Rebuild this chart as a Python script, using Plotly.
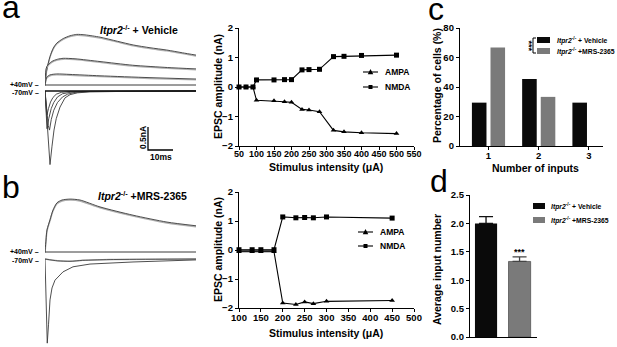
import plotly.graph_objects as go

W, H = 617, 347
FONT = "Liberation Sans"

# ---------------- data ----------------
# panel a example traces: time (ms) and current (nA)
a40_big_t = [0, 0.6, 2, 3.3, 4.7, 7.3, 10, 12.7, 16, 22, 29, 35.3, 42, 48.7, 55, 60.4]
a40_big_i = [0, 0.3, 0.62, 0.8, 0.91, 1.01, 1.07, 1.10, 1.09, 1.04, 0.95, 0.87, 0.81, 0.76, 0.70, 0.65]
a40_mid_t = [0, 0.7, 2.7, 5, 7.3, 12, 22, 35, 49, 60.4]
a40_mid_i = [0, 0.4, 0.51, 0.56, 0.58, 0.57, 0.51, 0.43, 0.38, 0.35]
a40_small_t = [0, 0.7, 2, 4.7, 10, 22, 42, 60.4]
a40_small_i = [0, 0.17, 0.22, 0.24, 0.23, 0.20, 0.16, 0.13]
a40_flat_t = [0, 60.4]
a40_flat_i = [0, 0]
a70_big_t = [0, 0.8, 1.4, 2, 2.8, 3.6, 4.5, 6, 8, 10, 13, 18, 30, 60.4]
a70_big_i = [0, -0.6, -1.15, -1.6, -1.2, -0.85, -0.6, -0.35, -0.15, -0.08, -0.04, -0.02, -0.01, 0]
a70_b2_t = [0, 0.7, 1.3, 1.8, 2.5, 3.5, 5, 7, 9, 12, 18, 60.4]
a70_b2_i = [0, -0.5, -0.75, -0.85, -0.62, -0.42, -0.25, -0.13, -0.07, -0.03, -0.01, 0]
a70_mid_t = [0, 0.4, 0.8, 1.5, 2.5, 3.5, 5, 7, 10, 15, 60.4]
a70_mid_i = [0, -0.5, -0.82, -0.6, -0.38, -0.25, -0.13, -0.06, -0.03, -0.01, 0]
a70_small_t = [0, 0.4, 0.8, 1.4, 2.2, 3.2, 4.5, 6.5, 10, 60.4]
a70_small_i = [0, -0.35, -0.52, -0.38, -0.24, -0.14, -0.07, -0.03, -0.01, 0]

# panel b example traces
b40_t = [0, 0.4, 0.8, 2, 3.2, 4.8, 6.8, 10, 14, 22, 35.2, 48.8, 60.4]
b40_i = [0, 0.26, 0.48, 0.70, 0.91, 1.07, 1.13, 1.15, 1.13, 0.98, 0.80, 0.65, 0.57]
b40_flat_t = [0, 60.4]
b40_flat_i = [0, 0]
b70_t = [0, 0.4, 0.9, 1.4, 2, 2.8, 4, 7.2, 11.2, 18, 22, 35.2, 60.4]
b70_i = [0, -0.67, -1.83, -1.43, -0.89, -0.63, -0.46, -0.28, -0.17, -0.11, -0.10, -0.065, -0.02]
b70_flat_t = [0, 5, 10, 15, 20, 30, 60.4]
b70_flat_i = [0, -0.04, -0.05, -0.03, -0.02, -0.01, 0]

# input-output curves
stim_a = [50, 70, 90, 100, 150, 180, 200, 230, 250, 280, 320, 350, 400, 500]
ampa_a = [0, 0, 0, -0.45, -0.47, -0.50, -0.52, -0.76, -0.78, -0.84, -1.47, -1.52, -1.55, -1.58]
nmda_a = [0, 0, 0, 0.24, 0.24, 0.25, 0.25, 0.58, 0.59, 0.60, 1.03, 1.04, 1.07, 1.08]

stim_b = [100, 130, 150, 180, 200, 230, 250, 270, 300, 450]
ampa_b = [-0.06, -0.06, -0.06, -0.06, -1.83, -1.88, -1.79, -1.85, -1.77, -1.74]
nmda_b = [0.01, 0.01, 0.01, 0.01, 1.14, 1.11, 1.12, 1.11, 1.14, 1.10]

# panel c
inputs = [1, 2, 3]
pct_vehicle = [29.4, 45.5, 29.4]
pct_mrs = [66.7, 33.3, 0]

# panel d
groups_d = [0, 1]
avg_inputs = [2.0, 1.33]
avg_sem = [0.12, 0.08]

ticks_a = [50, 100, 150, 200, 250, 300, 350, 400, 450, 500, 550]
ticks_b = [100, 150, 200, 250, 300, 350, 400, 450, 500]
ticks_y_epsc = [-2, -1, 0, 1, 2]
ticks_c = [0, 20, 40, 60, 80]
ticks_d = [0, 0.5, 1.0, 1.5, 2.0, 2.5]

OFF70_A = -0.13   # display offset of -70 mV traces (nA)
OFF70_B = -0.152
SCALE_MS = 10
SCALE_NA = 0.5

# ---------------- helpers ----------------
def PX(x):
    return x / W

def PY(y):
    return 1 - y / H

fig = go.Figure()

def trace(t, i, ax, color, off=0.0, width=1.0, shape="spline", dy=0.0):
    fig.add_trace(go.Scatter(
        x=t, y=[v + off + dy for v in i], mode="lines",
        line=dict(color=color, width=width, shape=shape, smoothing=0.7),
        xaxis="x" + ax, yaxis="y" + ax, hoverinfo="skip", showlegend=False))

DARK = "#3a3a3a"
LIGHT = "#b0b0b0"

# panel a traces
for (t, i) in [(a40_big_t, a40_big_i), (a40_mid_t, a40_mid_i), (a40_small_t, a40_small_i)]:
    trace(t, i, "", LIGHT, width=1.3, dy=-0.02)
    trace(t, i, "", DARK, width=0.9)
trace(a40_flat_t, a40_flat_i, "", DARK, width=1.0, shape="linear")
for (t, i) in [(a70_big_t, a70_big_i), (a70_b2_t, a70_b2_i), (a70_mid_t, a70_mid_i), (a70_small_t, a70_small_i)]:
    trace(t, i, "", DARK, off=OFF70_A, width=0.9, shape="linear")
trace(a40_flat_t, a40_flat_i, "", "#111111", off=OFF70_A, width=1.3, shape="linear")

# scale bar in trace-a coordinates
sb_t0 = 41.2
sb_i0 = -1.413
fig.add_trace(go.Scatter(x=[sb_t0, sb_t0, sb_t0 + SCALE_MS], y=[sb_i0 + SCALE_NA, sb_i0, sb_i0],
                         mode="lines", line=dict(color="black", width=1.3),
                         xaxis="x", yaxis="y", hoverinfo="skip", showlegend=False))

# panel b traces
trace(b40_t, b40_i, "4", LIGHT, width=1.5, dy=-0.02)
trace(b40_t, b40_i, "4", DARK, width=0.9)
trace(b40_flat_t, b40_flat_i, "4", DARK, width=1.0, shape="linear")
trace(b70_flat_t, b70_flat_i, "4", LIGHT, off=OFF70_B, width=1.5)
trace(b70_flat_t, b70_flat_i, "4", DARK, off=OFF70_B, width=0.8)
trace(b70_t, b70_i, "4", DARK, off=OFF70_B, width=0.9, shape="linear")

# input-output curves
def io(x, y, ax, sym):
    fig.add_trace(go.Scatter(x=x, y=y, mode="lines+markers",
                             line=dict(color="black", width=1.1),
                             marker=dict(symbol=sym, size=5, color="black"),
                             xaxis="x" + ax, yaxis="y" + ax, cliponaxis=False,
                             hoverinfo="skip", showlegend=False))

# band between curves at low intensities in b
nb = 4
fig.add_trace(go.Scatter(x=stim_b[:nb] + stim_b[:nb][::-1], y=nmda_b[:nb] + ampa_b[:nb][::-1],
                         fill="toself", fillcolor="#555555", line=dict(width=0),
                         mode="lines", xaxis="x5", yaxis="y5", hoverinfo="skip", showlegend=False))
io(stim_a, ampa_a, "2", "triangle-up")
io(stim_a, nmda_a, "2", "square")
io(stim_b, ampa_b, "5", "triangle-up")
io(stim_b, nmda_b, "5", "square")

# panel c bars
fig.add_trace(go.Bar(x=inputs, y=pct_vehicle, width=0.29, offset=-0.33,
                     marker=dict(color="#0a0a0a", line=dict(width=0)),
                     xaxis="x3", yaxis="y3", hoverinfo="skip", showlegend=False))
fig.add_trace(go.Bar(x=inputs, y=pct_mrs, width=0.29, offset=0.04,
                     marker=dict(color="#7a7a7a", line=dict(width=0)),
                     xaxis="x3", yaxis="y3", hoverinfo="skip", showlegend=False))

# panel d bars
fig.add_trace(go.Bar(x=groups_d[:1], y=avg_inputs[:1], width=0.66,
                     marker=dict(color="#0a0a0a", line=dict(width=0)),
                     error_y=dict(type="data", array=avg_sem[:1], arrayminus=[0],
                                  color="#111111", thickness=1.3, width=7),
                     xaxis="x6", yaxis="y6", hoverinfo="skip", showlegend=False))
fig.add_trace(go.Bar(x=groups_d[1:], y=avg_inputs[1:], width=0.66,
                     marker=dict(color="#7a7a7a", line=dict(color="#555555", width=0.8)),
                     error_y=dict(type="data", array=avg_sem[1:], arrayminus=[0],
                                  color="#444444", thickness=1.3, width=7),
                     xaxis="x6", yaxis="y6", hoverinfo="skip", showlegend=False))

# ---------------- axes ----------------
TICKF = dict(family=FONT, size=9.5, color="black", weight="bold")
base_axis = dict(showline=True, linecolor="black", linewidth=1.3, ticks="outside",
                 ticklen=3, tickwidth=1.2, tickcolor="black", showgrid=False,
                 zeroline=False, tickfont=TICKF, automargin=False, fixedrange=True,
                 tickangle=0)
hidden = dict(visible=False, showgrid=False, zeroline=False, automargin=False, fixedrange=True)

fig.update_layout(
    xaxis=dict(hidden, domain=[PX(45), PX(196)], range=[0, 60.4]),
    yaxis=dict(hidden, domain=[PY(170), PY(20)], range=[-85 / 46, 65 / 46]),
    xaxis4=dict(hidden, domain=[PX(45), PX(196)], range=[0, 60.4]),
    yaxis4=dict(hidden, domain=[PY(347), PY(180)], range=[-95 / 46, 72 / 46]),
    xaxis2=dict(base_axis, domain=[PX(239), PX(414)], range=[50, 550],
                tickvals=ticks_a, anchor="y2", tickfont=dict(TICKF, size=9),
                ticklabelstandoff=-4),
    yaxis2=dict(base_axis, domain=[PY(146), PY(28)], range=[-2, 2],
                tickvals=ticks_y_epsc, anchor="x2"),
    xaxis5=dict(base_axis, domain=[PX(239), PX(414)], range=[100, 500],
                tickvals=ticks_b, anchor="y5", ticklabelstandoff=-3),
    yaxis5=dict(base_axis, domain=[PY(308), PY(192)], range=[-2, 2],
                tickvals=ticks_y_epsc, anchor="x5"),
    xaxis3=dict(base_axis, domain=[PX(460), PX(603)], range=[0.433, 3.279],
                tickvals=inputs, anchor="y3", ticklabelstandoff=-3),
    yaxis3=dict(base_axis, domain=[PY(146), PY(28)], range=[0, 80],
                tickvals=ticks_c, anchor="x3"),
    xaxis6=dict(base_axis, domain=[PX(470), PX(537)], range=[-0.478, 1.52],
                ticks="", showticklabels=False, anchor="y6"),
    yaxis6=dict(base_axis, domain=[PY(337), PY(195)], range=[0, 2.5],
                tickvals=ticks_d, tickformat=".1f", anchor="x6"),
    barmode="overlay",
    width=W, height=H,
    margin=dict(l=0, r=0, t=0, b=0),
    paper_bgcolor="white", plot_bgcolor="white",
    showlegend=False,
)

# ---------------- annotations ----------------
ann = []
def text(x, y, s, size, angle=0, xanchor="center", yanchor="middle", bold=True, color="black"):
    ann.append(dict(x=PX(x), y=PY(y), xref="paper", yref="paper", text=s, showarrow=False,
                    font=dict(family=FONT, size=size, color=color,
                              weight="bold" if bold else "normal"),
                    textangle=angle, xanchor=xanchor, yanchor=yanchor))

# panel letters
text(0, 7, "a", 32, xanchor="left", bold=False)
text(0, 187, "b", 32, xanchor="left", bold=False)
text(426, 9, "c", 32, xanchor="left", bold=False)
text(428, 181, "d", 32, xanchor="left", bold=False)

# trace panel titles
text(139, 29, "<i>Itpr2</i><sup>-/-</sup> + Vehicle", 10.5)
text(142, 195, "<i>Itpr2</i><sup>-/-</sup> +MRS-2365", 10.5)
# holding potentials
for (y40, y70) in [(85, 91), (252, 259)]:
    text(41, y40 - 1, "+40mV \u2013", 7, xanchor="right")
    text(41, y70 + 1, "-70mV \u2013", 7, xanchor="right")
# scale bar labels
text(143, 138, "0.5nA", 8.5, angle=-90)
text(161, 157, "10ms", 8.5)

# axis titles
text(218, 87, "EPSC amplitude (nA)", 10.5, angle=-90)
text(326, 167, "Stimulus intensity (\u03bcA)", 10.5)
text(218, 250, "EPSC amplitude (nA)", 10.5, angle=-90)
text(326, 333, "Stimulus intensity (\u03bcA)", 10.5)
text(437, 86, "Percentage of cells (%)", 10.5, angle=-90)
text(535, 168, "Number of inputs", 10.5)
text(437, 270, "Average input number", 10.5, angle=-90)

# IO legends
shapes = []
def line_px(x0, y0, x1, y1, color="black", width=1.1):
    shapes.append(dict(type="line", xref="paper", yref="paper", x0=PX(x0), y0=PY(y0),
                       x1=PX(x1), y1=PY(y1), line=dict(color=color, width=width)))
def rect_px(x0, y0, x1, y1, color):
    shapes.append(dict(type="rect", xref="paper", yref="paper", x0=PX(x0), y0=PY(y0),
                       x1=PX(x1), y1=PY(y1), line=dict(width=0), fillcolor=color))
def tri_px(cx, cy, s):
    p = [(cx, cy - s * 0.6), (cx - s * 0.55, cy + s * 0.45), (cx + s * 0.55, cy + s * 0.45)]
    path = "M " + " L ".join(f"{PX(a)},{PY(b)}" for a, b in p) + " Z"
    shapes.append(dict(type="path", xref="paper", yref="paper", path=path,
                       line=dict(width=0), fillcolor="black"))

for (lx, ya, yn) in [(363, 72, 87), (358, 232, 246)]:
    line_px(lx, ya, lx + 15, ya)
    tri_px(lx + 7.5, ya, 5)
    text(lx + 20, ya, "AMPA", 8.5, xanchor="left")
    line_px(lx, yn, lx + 15, yn)
    rect_px(lx + 5.5, yn - 2, lx + 9.5, yn + 2, "black")
    text(lx + 20, yn, "NMDA", 8.5, xanchor="left")

# panel c legend
rect_px(537, 37, 550, 43, "#0a0a0a")
rect_px(537, 48, 550, 54, "#7a7a7a")
text(555, 40, "<i>Itpr2</i><sup>-/-</sup> + Vehicle", 6.8, xanchor="left")
text(555, 51, "<i>Itpr2</i><sup>-/-</sup> +MRS-2365", 6.8, xanchor="left")
line_px(533, 38, 533, 53, width=1.0)
line_px(533, 38, 536, 38, width=1.0)
line_px(533, 53, 536, 53, width=1.0)
text(528, 45.5, "***", 9, angle=90)

# panel d legend
rect_px(533, 203, 545, 209, "#0a0a0a")
rect_px(533, 217, 545, 223, "#7a7a7a")
text(549, 206, "<i>Itpr2</i><sup>-/-</sup> + Vehicle", 6.8, xanchor="left")
text(549, 220, "<i>Itpr2</i><sup>-/-</sup> +MRS-2365", 6.8, xanchor="left")
text(519.5, 252, "***", 9)

fig.update_layout(annotations=ann, shapes=shapes)
fig.write_html("out.html", config={"displayModeBar": False},
               post_script="document.body.style.margin='0';document.body.style.overflow='hidden';")
